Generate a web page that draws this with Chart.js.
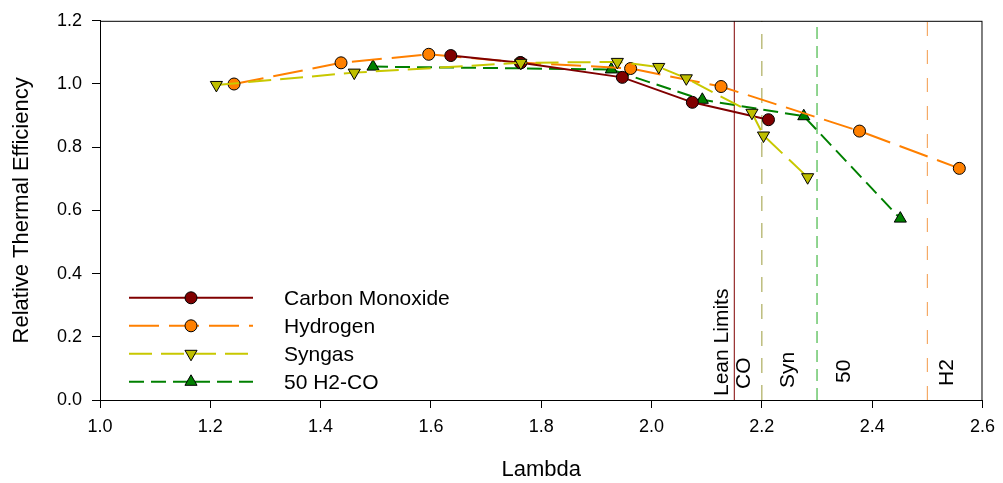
<!DOCTYPE html>
<html>
<head>
<meta charset="utf-8">
<script src="https://cdn.jsdelivr.net/npm/chart.js@4.4.1/dist/chart.umd.min.js"></script>
<style>
  body { margin: 0; background: #fff; }
  #wrap { width: 1003px; height: 483px; }
</style>
</head>
<body>
<div id="wrap"><canvas id="myChart" width="1003" height="483"></canvas></div>
<script>
// data
const coLambda  = [1.636, 1.763, 1.947, 2.074, 2.212];
const coEff     = [1.090, 1.067, 1.021, 0.942, 0.887];

const h2Lambda  = [1.243, 1.437, 1.596, 1.762, 1.962, 2.126, 2.377, 2.558];
const h2Eff     = [1.000, 1.067, 1.094, 1.068, 1.049, 0.992, 0.851, 0.733];

const synLambda = [1.211, 1.461, 1.763, 1.938, 2.013, 2.063, 2.182, 2.203, 2.283];
const synEff    = [0.997, 1.036, 1.067, 1.070, 1.054, 1.018, 0.909, 0.837, 0.705];

const mixLambda = [1.495, 1.927, 2.092, 2.276, 2.451];
const mixEff    = [1.055, 1.046, 0.950, 0.898, 0.574];

const leanLimits = [2.15, 2.20, 2.30, 2.50];
const leanNames  = ["CO", "Syn", "50", "H2"];

const xTicks = [1.0, 1.2, 1.4, 1.6, 1.8, 2.0, 2.2, 2.4, 2.6];
const yTicks = [0.0, 0.2, 0.4, 0.6, 0.8, 1.0, 1.2];

const FONT = "'Liberation Sans', Arial, Helvetica, sans-serif";

function pts(xs, ys) {
    return xs.map((x, i) => ({ x: x, y: ys[i] }));
}

function vline(x, color, dash) {
    return {
        label: "lean",
        data: [{ x: x, y: yTicks[0] }, { x: x, y: yTicks[yTicks.length - 1] }],
        borderColor: color,
        borderWidth: 1,
        borderDash: dash,
        pointRadius: 0,
        order: 10,
    };
}

const series = [
    { label: "Carbon Monoxide", data: pts(coLambda, coEff), borderColor: "#800000", backgroundColor: "#800000",
      borderDash: [], pointStyle: "circle", pointRadius: 6, rotation: 0, order: 2 },
    { label: "Hydrogen", data: pts(h2Lambda, h2Eff), borderColor: "#FF8000", backgroundColor: "#FF8000",
      borderDash: [30, 10], pointStyle: "circle", pointRadius: 6, rotation: 0, order: 3 },
    { label: "Syngas", data: pts(synLambda, synEff), borderColor: "#C8C800", backgroundColor: "#BFBF00",
      borderDash: [23, 9], pointStyle: "triangle", pointRadius: 7, rotation: 180, order: 1 },
    { label: "50 H2-CO", data: pts(mixLambda, mixEff), borderColor: "#008000", backgroundColor: "#008000",
      borderDash: [15, 7], pointStyle: "triangle", pointRadius: 7, rotation: 0, order: 4 },
];

const datasets = series.map(s => ({
    label: s.label,
    data: s.data,
    borderColor: s.borderColor,
    borderWidth: 2,
    borderDash: s.borderDash,
    pointStyle: s.pointStyle,
    pointRadius: s.pointRadius,
    pointRotation: s.rotation,
    pointBackgroundColor: s.backgroundColor,
    pointBorderColor: "#000",
    pointBorderWidth: 1,
    order: s.order,
}));

datasets.push(vline(leanLimits[0], "#800000", []));
datasets.push(vline(leanLimits[1], "#9C9C3C", [15, 12]));
datasets.push(vline(leanLimits[2], "#22AA22", [12, 7]));
datasets.push(vline(leanLimits[3], "#F39A4A", [14, 14]));

// frame, legend and lean-limit labels
const extras = {
    id: "extras",
    afterDatasetsDraw(chart) {
        const ctx = chart.ctx;
        const a = chart.chartArea;
        const xs = chart.scales.x;

        ctx.save();
        ctx.strokeStyle = "#000";
        ctx.lineWidth = 1;
        ctx.strokeRect(a.left + 0.5, a.top + 0.5, a.right - a.left - 1, a.bottom - a.top);

        // lean limit labels (rotated)
        ctx.fillStyle = "#000";
        ctx.font = "21px " + FONT;
        ctx.textBaseline = "middle";
        ctx.textAlign = "left";
        function rot(text, x, lift) {
            ctx.save();
            ctx.translate(x, a.bottom - lift);
            ctx.rotate(-Math.PI / 2);
            ctx.fillText(text, 0, 0);
            ctx.restore();
        }
        const offs = [10, 26, 27, 20];
        const lifts = [11, 12, 17, 14];
        rot("Lean Limits", xs.getPixelForValue(leanLimits[0]) - 12, 4);
        leanNames.forEach((n, i) => rot(n, xs.getPixelForValue(leanLimits[i]) + offs[i], lifts[i]));

        // legend
        const lx0 = a.left + 29, lx1 = a.left + 153, mx = a.left + 91;
        let ly = a.top + 277;
        series.forEach(s => {
            ctx.save();
            ctx.strokeStyle = s.borderColor;
            ctx.lineWidth = 2;
            ctx.setLineDash(s.borderDash);
            ctx.beginPath();
            ctx.moveTo(lx0, ly);
            ctx.lineTo(lx1, ly);
            ctx.stroke();
            ctx.restore();

            ctx.save();
            ctx.fillStyle = s.backgroundColor;
            ctx.strokeStyle = "#000";
            ctx.lineWidth = 1;
            Chart.helpers.drawPoint(ctx, { pointStyle: s.pointStyle, radius: s.pointRadius, rotation: s.rotation, borderWidth: 1 }, mx, ly);
            ctx.restore();

            ctx.fillStyle = "#000";
            ctx.font = "21px " + FONT;
            ctx.textAlign = "left";
            ctx.textBaseline = "middle";
            ctx.fillText(s.label, a.left + 184, ly + 1);
            ly += 28;
        });
        ctx.restore();
    },
};

Chart.defaults.color = "#000";
Chart.defaults.font.family = FONT;

const config = {
    type: "line",
    data: { datasets: datasets },
    options: {
        responsive: false,
        animation: false,
        layout: { padding: { left: 0, top: 17, right: 16, bottom: 0 } },
        plugins: {
            legend: { display: false },
            tooltip: { enabled: false },
        },
        scales: {
            x: {
                type: "linear",
                min: xTicks[0],
                max: xTicks[xTicks.length - 1],
                afterFit(scale) { scale.height = 83; },
                afterBuildTicks(scale) { scale.ticks = xTicks.map(v => ({ value: v })); },
                ticks: {
                    font: { size: 18 },
                    padding: 8,
                    maxRotation: 0,
                    callback: v => Number(v).toFixed(1),
                },
                grid: { drawOnChartArea: false, drawTicks: true, tickLength: 8, color: "#000" },
                border: { display: true, color: "#000", width: 1 },
                title: { display: true, text: "Lambda", font: { size: 22 }, padding: { top: 0, bottom: 0 } },
            },
            y: {
                type: "linear",
                min: yTicks[0],
                max: yTicks[yTicks.length - 1],
                afterFit(scale) { scale.width = 100; },
                afterBuildTicks(scale) { scale.ticks = yTicks.map(v => ({ value: v })); },
                ticks: {
                    font: { size: 18 },
                    padding: 10,
                    callback: v => Number(v).toFixed(1),
                },
                grid: { drawOnChartArea: false, drawTicks: true, tickLength: 8, color: "#000" },
                border: { display: true, color: "#000", width: 1 },
                title: { display: true, text: "Relative Thermal Efficiency", font: { size: 22 }, padding: { top: 9, bottom: 0 } },
            },
        },
    },
    plugins: [extras],
};

const myChart = new Chart(document.getElementById("myChart"), config);
</script>
</body>
</html>
